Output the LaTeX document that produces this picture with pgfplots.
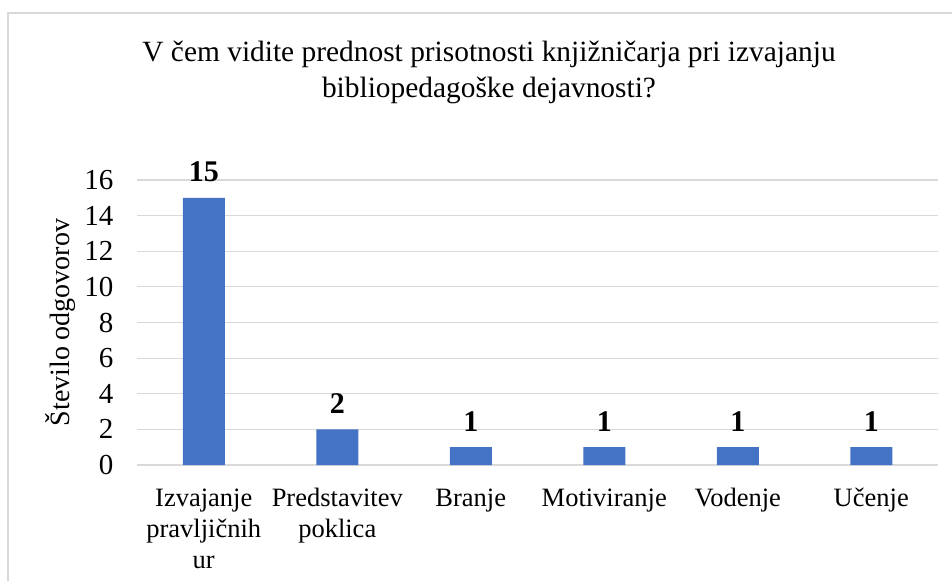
\documentclass[border=0pt]{standalone}
\usepackage{pgfplots}
\pgfplotsset{compat=1.18}
\usepackage{fontspec}
\setmainfont{Liberation Serif}
\definecolor{barblue}{HTML}{4472C4}
\definecolor{gridgray}{HTML}{D9D9D9}
\begin{document}
\begin{tikzpicture}
\path[use as bounding box] (0,0) rectangle (952pt,581pt);
% frame of the chart area (cut off at right and bottom)
\draw[gridgray, line width=1.5pt] (8pt,0pt) -- (8pt,568pt) -- (952pt,568pt);
\node[align=center, font=\fontsize{29.4}{36}\selectfont] at (489pt,509pt)
  {V čem vidite prednost prisotnosti knjižničarja pri izvajanju\\bibliopedagoške dejavnosti?};
\begin{axis}[
    at={(137pt,116pt)}, anchor=south west,
    scale only axis, width=801pt, height=285pt,
    ybar, bar width=42pt,
    xmin=-0.5, xmax=5.5, ymin=0, ymax=16,
    ytick={0,2,...,16},
    xtick=data,
    xticklabels={Izvajanje\\pravljičnih\\ur, Predstavitev\\poklica, Branje, Motiviranje, Vodenje, Učenje},
    xticklabel style={align=center, font=\fontsize{26.5}{31}\selectfont, yshift=-20pt},
    yticklabel style={font=\fontsize{29}{30}\selectfont, xshift=-20pt},
    /pgf/number format/assume math mode=true,
    ylabel={Število odgovorov},
    ylabel style={font=\fontsize{28}{30}\selectfont, at={(axis description cs:-0.096,0.5)}, anchor=center},
    axis line style={draw=none},
    major tick length=0pt,
    ymajorgrids, grid style={gridgray, line width=1.2pt},
    nodes near coords,
    nodes near coords style={font=\bfseries\fontsize{30}{30}\selectfont, black, yshift=12pt},
]
\addplot[fill=barblue, draw=none] coordinates {(0,15) (1,2) (2,1) (3,1) (4,1) (5,1)};
\end{axis}
\end{tikzpicture}
\end{document}
